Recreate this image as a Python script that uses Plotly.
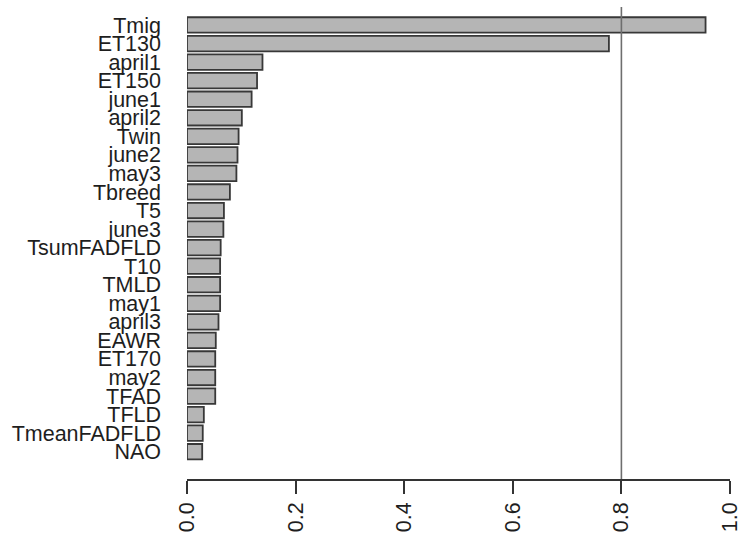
import plotly.graph_objects as go

# Variable importance scores, listed from most to least important
variables = ["Tmig", "ET130", "april1", "ET150", "june1", "april2", "Twin",
             "june2", "may3", "Tbreed", "T5", "june3", "TsumFADFLD", "T10",
             "TMLD", "may1", "april3", "EAWR", "ET170", "may2", "TFAD",
             "TFLD", "TmeanFADFLD", "NAO"]
importance = [0.955, 0.777, 0.139, 0.129, 0.119, 0.101, 0.095,
              0.093, 0.091, 0.079, 0.068, 0.067, 0.062, 0.061,
              0.061, 0.061, 0.058, 0.053, 0.052, 0.052, 0.052,
              0.031, 0.029, 0.028]
x_ticks = [0.0, 0.2, 0.4, 0.6, 0.8, 1.0]
threshold = 0.8

font_family = "Liberation Sans, Arial, sans-serif"
n = len(variables)

fig = go.Figure(
    go.Bar(
        x=importance,
        y=list(range(n)),
        orientation="h",
        width=0.833,
        marker=dict(color="#b5b5b5", line=dict(color="#383838", width=1.8)),
        hoverinfo="skip",
    )
)

fig.add_shape(
    type="line", xref="x", yref="paper",
    x0=threshold, x1=threshold, y0=0, y1=1,
    line=dict(color="#6e6e6e", width=1.6),
)

fig.update_layout(
    width=741, height=538,
    margin=dict(l=187, r=11, t=7, b=59),
    paper_bgcolor="white", plot_bgcolor="white",
    showlegend=False,
    font=dict(family=font_family, size=21.5, color="#1e1e1e"),
    xaxis=dict(
        range=[0, 1],
        automargin=False,
        ticklabeloverflow="allow",
        tickvals=x_ticks,
        ticktext=[f"{v:.1f}" for v in x_ticks],
        tickangle=-90,
        showgrid=False, zeroline=False,
        showline=True, linecolor="#333333", linewidth=1.6,
        ticks="outside", ticklen=13, tickwidth=1.6, tickcolor="#333333",
        tickfont=dict(size=21.5, color="#1e1e1e"),
    ),
    yaxis=dict(
        range=[n - 1 + 1.47, -0.97],
        automargin=False,
        ticklabeloverflow="allow",
        tickvals=list(range(n)),
        ticktext=variables,
        showgrid=False, zeroline=False, showline=False,
        ticks="", ticklabelstandoff=25,
        tickfont=dict(size=21.5, color="#1e1e1e"),
    ),
)

fig.write_html("out.html")
